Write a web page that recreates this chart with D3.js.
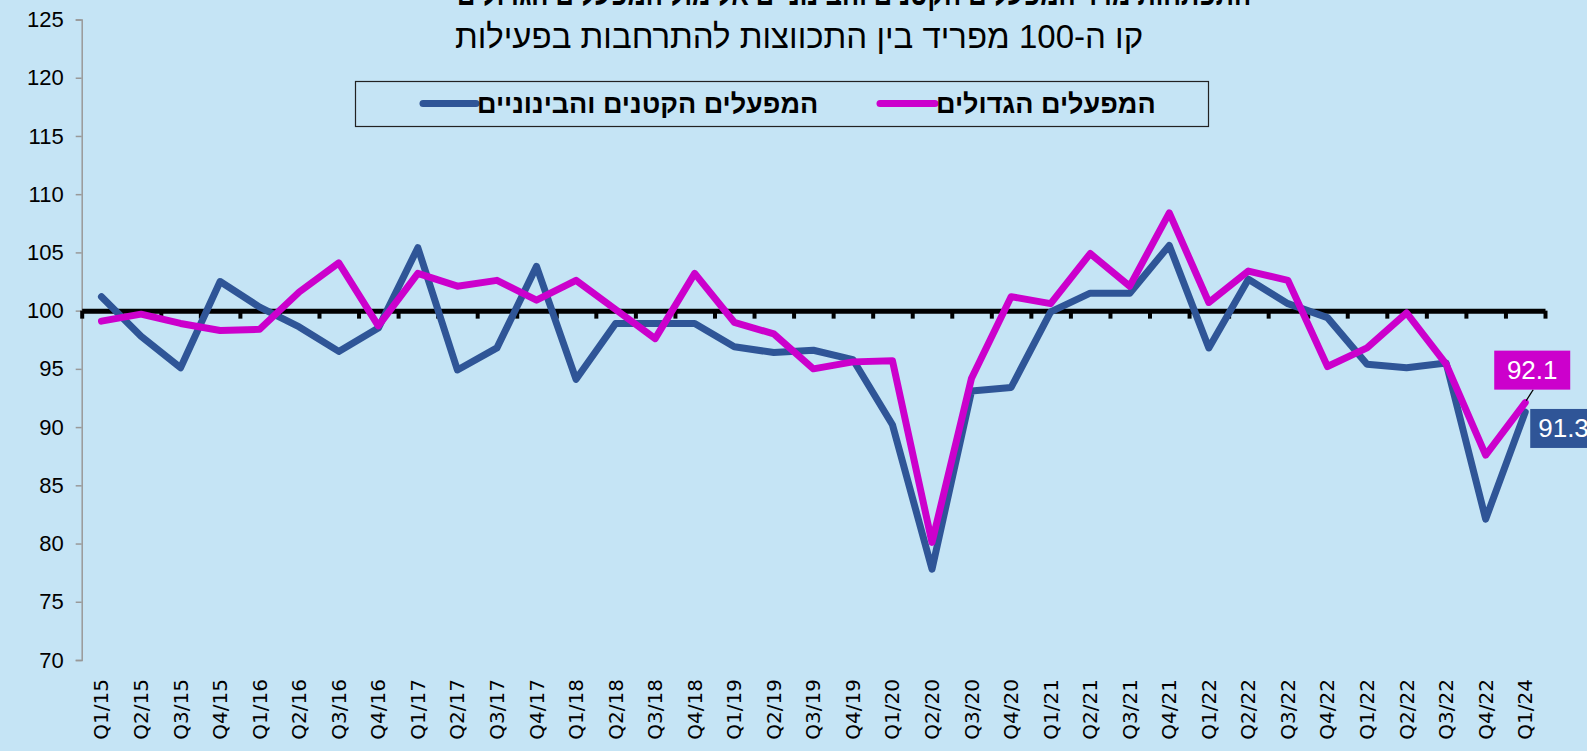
<!DOCTYPE html>
<html>
<head>
<meta charset="utf-8">
<script src="https://cdn.jsdelivr.net/npm/d3@7"></script>
<style>
  html, body { margin: 0; padding: 0; background: #c5e4f5; overflow: hidden; }
  svg { display: block; }
</style>
</head>
<body>
<div id="chart"></div>
<script>
// quarters as labelled in the source (the 2023 quarters are labelled /22 there)
var quarters = ["Q1/15","Q2/15","Q3/15","Q4/15","Q1/16","Q2/16","Q3/16","Q4/16",
  "Q1/17","Q2/17","Q3/17","Q4/17","Q1/18","Q2/18","Q3/18","Q4/18",
  "Q1/19","Q2/19","Q3/19","Q4/19","Q1/20","Q2/20","Q3/20","Q4/20",
  "Q1/21","Q2/21","Q3/21","Q4/21","Q1/22","Q2/22","Q3/22","Q4/22",
  "Q1/22","Q2/22","Q3/22","Q4/22","Q1/24"];

var smallMedium = [101.2, 97.8, 95.1, 102.5, 100.3, 98.6, 96.5, 98.5, 105.4, 94.9, 96.8, 103.8,
  94.1, 98.9, 98.9, 98.9, 96.9, 96.4, 96.6, 95.8, 90.2, 77.8, 93.1, 93.4,
  99.9, 101.5, 101.5, 105.6, 96.8, 102.7, 100.6, 99.4, 95.4, 95.1, 95.5, 82.1, 91.3];

var large = [99.1, 99.7, 98.9, 98.3, 98.4, 101.6, 104.1, 98.7, 103.2, 102.1, 102.6, 100.9,
  102.6, 100.1, 97.6, 103.2, 99.0, 98.0, 95.0, 95.6, 95.7, 80.1, 94.2, 101.2,
  100.6, 104.9, 102.1, 108.4, 100.7, 103.4, 102.6, 95.2, 96.8, 99.8, 95.4, 87.6, 92.1];

var yTicks = [70, 75, 80, 85, 90, 95, 100, 105, 110, 115, 120, 125];

var title = "התפתחות מדד המפעלים הקטנים והבינוניים אל מול המפעלים הגדולים";
var subtitle = "קו ה-100 מפריד בין התכווצות להתרחבות בפעילות";
var nameSmall = "המפעלים הקטנים והבינוניים";
var nameLarge = "המפעלים הגדולים";

var W = 1587, H = 751;
var blue = "#2f5597", pink = "#cc00cc";
var narrow = "'Liberation Sans Narrow', 'Liberation Sans', Arial, sans-serif";

var svg = d3.select("#chart").append("svg")
    .attr("width", W).attr("height", H);

svg.append("rect").attr("width", W).attr("height", H).attr("fill", "#c5e4f5");

var x = d3.scaleBand().domain(d3.range(quarters.length)).range([81.7, 1545]).padding(0),
    xEdge = d3.scaleLinear().domain([0, quarters.length]).range([81.7, 1545]),
    y = d3.scaleLinear().domain([70, 125]).range([660, 19.5]);

function cx(i) { return x(i) + x.bandwidth() / 2; }

// y axis
var yAxis = svg.append("g")
    .attr("transform", "translate(81.7,0)")
    .call(d3.axisLeft(y).tickValues(yTicks).tickSize(6).tickPadding(12));
yAxis.select(".domain").attr("stroke", "#999").attr("stroke-width", 1.5);
yAxis.selectAll(".tick line").attr("stroke", "#999").attr("stroke-width", 1.5);
yAxis.selectAll("text")
    .attr("font-family", narrow)
    .attr("font-size", 22).attr("fill", "#000");

// the 100 line, drawn as an axis with ticks at category edges
var hundred = svg.append("g")
    .attr("transform", "translate(0," + y(100) + ")")
    .call(d3.axisBottom(xEdge).tickValues(d3.range(quarters.length + 1)).tickSize(8).tickSizeOuter(0).tickFormat(""));
hundred.select(".domain").attr("stroke", "#000").attr("stroke-width", 5);
hundred.selectAll(".tick line").attr("stroke", "#000").attr("stroke-width", 4);

// category labels
var xAxis = svg.append("g")
    .attr("transform", "translate(0," + 660 + ")")
    .call(d3.axisBottom(x).tickSize(0).tickFormat(function(i) { return quarters[i]; }));
xAxis.select(".domain").remove();
xAxis.selectAll("text")
    .attr("font-family", "'DejaVu Sans', Verdana, sans-serif")
    .attr("font-size", 20).attr("fill", "#000")
    .attr("text-anchor", "end")
    .attr("transform", "rotate(-90)")
    .attr("x", -19).attr("y", 0).attr("dy", "0.35em");

// lines
var line = d3.line()
    .x(function(d, i) { return cx(i); })
    .y(function(d) { return y(d); });

svg.append("path").datum(smallMedium)
    .attr("fill", "none").attr("stroke", blue).attr("stroke-width", 7)
    .attr("stroke-linejoin", "round").attr("stroke-linecap", "round")
    .attr("d", line);

svg.append("path").datum(large)
    .attr("fill", "none").attr("stroke", pink).attr("stroke-width", 7)
    .attr("stroke-linejoin", "round").attr("stroke-linecap", "round")
    .attr("d", line);

// end labels
var last = quarters.length - 1;
var lx = cx(last);

svg.append("line")
    .attr("x1", lx + 8).attr("y1", y(large[last]) - 13)
    .attr("x2", lx + 1).attr("y2", y(large[last]) - 2)
    .attr("stroke", "#000").attr("stroke-width", 1.2);

svg.append("rect")
    .attr("x", lx - 31).attr("y", y(large[last]) - 52)
    .attr("width", 76).attr("height", 39).attr("fill", pink);
svg.append("text")
    .attr("x", lx + 7).attr("y", y(large[last]) - 24)
    .attr("text-anchor", "middle")
    .attr("font-family", "'Liberation Sans', Arial, sans-serif")
    .attr("font-size", 26).attr("fill", "#fff")
    .text(large[last].toFixed(1));

svg.append("rect")
    .attr("x", lx + 5).attr("y", y(smallMedium[last]) - 3)
    .attr("width", 80).attr("height", 39).attr("fill", blue);
svg.append("text")
    .attr("x", lx + 13).attr("y", y(smallMedium[last]) + 25)
    .attr("font-family", "'Liberation Sans', Arial, sans-serif")
    .attr("font-size", 26).attr("fill", "#fff")
    .text(smallMedium[last].toFixed(1));

// titles (the first line is cut by the top edge in the source)
svg.append("text")
    .attr("x", 854).attr("y", 5)
    .attr("text-anchor", "middle")
    .attr("font-family", narrow)
    .attr("font-weight", "bold").attr("font-size", 33).attr("fill", "#000")
    .attr("textLength", 794).attr("lengthAdjust", "spacingAndGlyphs")
    .text(title);

svg.append("text")
    .attr("x", 799).attr("y", 48)
    .attr("text-anchor", "middle")
    .attr("font-family", narrow)
    .attr("font-size", 33).attr("fill", "#000")
    .text(subtitle);

// legend
var lg = svg.append("g");
lg.append("rect")
    .attr("x", 355.5).attr("y", 81.5).attr("width", 853).attr("height", 45)
    .attr("fill", "#c5e4f5").attr("stroke", "#222").attr("stroke-width", 1.2);

var items = [
  { name: nameSmall, color: blue, x0: 423, x1: 476 },
  { name: nameLarge, color: pink, x0: 880, x1: 935 }
];
items.forEach(function(it) {
  lg.append("line")
      .attr("x1", it.x0).attr("x2", it.x1).attr("y1", 103.5).attr("y2", 103.5)
      .attr("stroke", it.color).attr("stroke-width", 7).attr("stroke-linecap", "round");
  lg.append("text")
      .attr("x", it.x1 + 1).attr("y", 113)
      .attr("direction", "rtl").attr("text-anchor", "end")
      .attr("font-family", narrow)
      .attr("font-weight", "bold").attr("font-size", 27).attr("fill", "#000")
      .text(it.name);
});
</script>
</body>
</html>
